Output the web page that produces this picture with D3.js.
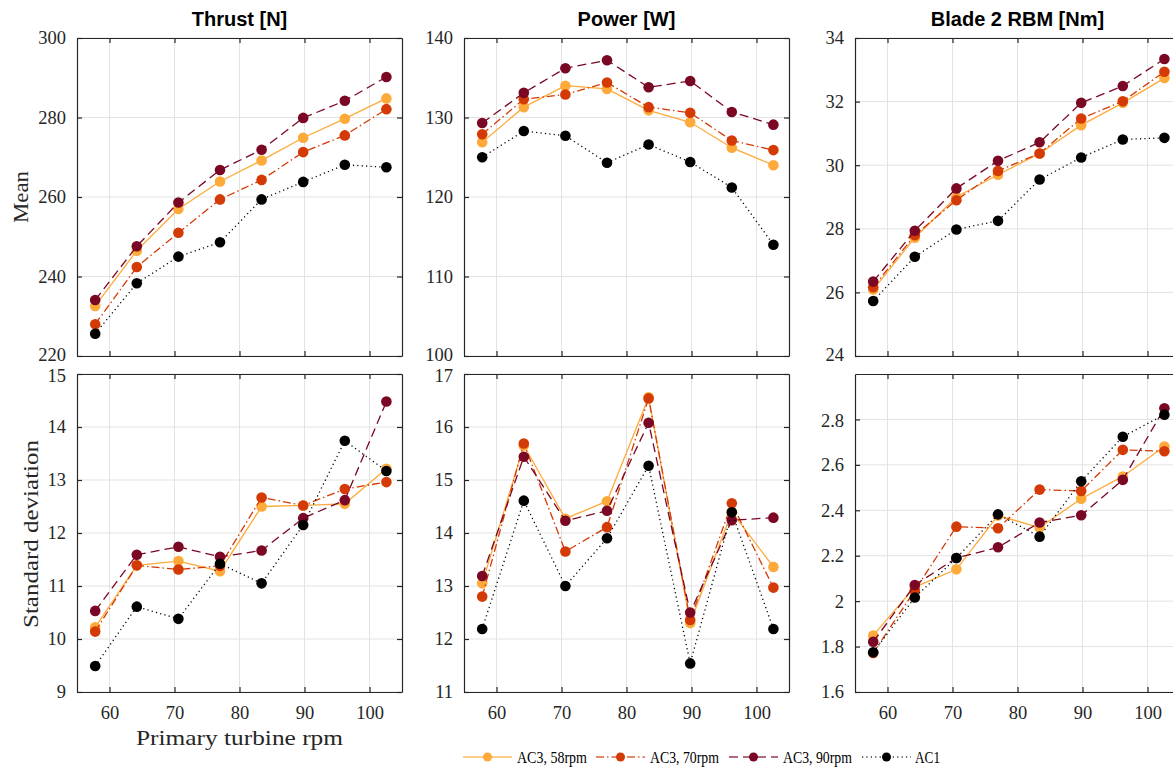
<!DOCTYPE html>
<html>
<head>
<meta charset="utf-8">
<script src="https://cdn.jsdelivr.net/npm/d3@7"></script>
<style>
  body { margin: 0; background: #fff; }
  svg { display: block; }
  .tick text { font-family: "Liberation Serif", "DejaVu Serif", serif; font-size: 18.5px; fill: #262626; }
  .title { font-family: "Liberation Sans", Arial, sans-serif; font-weight: bold; font-size: 20px; fill: #000; }
  .lab { font-family: "Liberation Serif", "DejaVu Serif", serif; font-size: 22px; fill: #262626; }
  .leg { font-family: "Liberation Serif", "DejaVu Serif", serif; font-size: 17px; fill: #000; }
</style>
</head>
<body>
<div class="chart"></div>
<script>
// rotor speeds (primary turbine rpm)
const rpm = [57.8, 64.2, 70.6, 77.0, 83.4, 89.8, 96.2, 102.6];

const seriesNames = ['AC3, 58rpm', 'AC3, 70rpm', 'AC3, 90rpm', 'AC1'];

// mean values
const thrustMean = [
  [232.6, 246.5, 257.0, 263.9, 269.2, 274.9, 279.7, 284.8],
  [228.0, 242.4, 251.0, 259.4, 264.3, 271.3, 275.5, 282.1],
  [234.1, 247.6, 258.6, 266.8, 271.9, 279.9, 284.2, 290.2],
  [225.6, 238.3, 245.0, 248.6, 259.4, 263.8, 268.1, 267.5]
];
const powerMean = [
  [126.9, 131.3, 134.0, 133.6, 130.9, 129.4, 126.2, 124.0],
  [127.9, 132.3, 132.9, 134.4, 131.3, 130.6, 127.1, 125.9],
  [129.3, 133.1, 136.2, 137.2, 133.8, 134.6, 130.7, 129.1],
  [125.0, 128.3, 127.7, 124.3, 126.6, 124.4, 121.2, 114.0]
];
const rbmMean = [
  [26.09, 27.72, 29.00, 29.70, 30.37, 31.26, 31.96, 32.74],
  [26.16, 27.80, 28.90, 29.82, 30.37, 31.47, 32.01, 32.94],
  [26.34, 27.94, 29.27, 30.14, 30.72, 31.96, 32.49, 33.34],
  [25.73, 27.12, 27.98, 28.25, 29.55, 30.24, 30.81, 30.86]
];

// standard deviations
const thrustStd = [
  [10.22, 11.39, 11.47, 11.28, 12.50, 12.52, 12.55, 13.21],
  [10.14, 11.39, 11.31, 11.38, 12.67, 12.52, 12.83, 12.96],
  [10.53, 11.59, 11.74, 11.55, 11.67, 12.28, 12.62, 14.48],
  [9.49, 10.61, 10.38, 11.42, 11.05, 12.15, 13.74, 13.17]
];
const powerStd = [
  [13.05, 15.65, 14.27, 14.60, 16.56, 12.30, 14.40, 13.36],
  [12.80, 15.69, 13.65, 14.11, 16.54, 12.36, 14.56, 12.97],
  [13.19, 15.44, 14.23, 14.42, 16.08, 12.50, 14.24, 14.29],
  [12.19, 14.61, 13.00, 13.90, 15.27, 11.54, 14.39, 12.19]
];
const rbmStd = [
  [1.849, 2.062, 2.140, 2.377, 2.324, 2.451, 2.549, 2.681],
  [1.772, 2.047, 2.328, 2.321, 2.491, 2.485, 2.666, 2.660],
  [1.821, 2.071, 2.190, 2.237, 2.346, 2.378, 2.534, 2.849],
  [1.775, 2.016, 2.190, 2.382, 2.284, 2.528, 2.724, 2.821]
];

const titles = ['Thrust [N]', 'Power [W]', 'Blade 2 RBM [Nm]'];
const xTicks = [60, 70, 80, 90, 100];
const yTicksTop = [[220, 240, 260, 280, 300], [100, 110, 120, 130, 140], [24, 26, 28, 30, 32, 34]];
const yTicksBot = [[9, 10, 11, 12, 13, 14, 15], [11, 12, 13, 14, 15, 16, 17], [1.6, 1.8, 2, 2.2, 2.4, 2.6, 2.8]];
const yDomTop = [[220, 300], [100, 140], [24, 34]];
const yDomBot = [[9, 15], [11, 17], [1.6, 3.0]];

const colors = ['#fdaa3a', '#d43a05', '#7a0723', '#000000'];
const dashes = [null, '8,3,1.5,3', '9,5', '1.2,3.2'];

const svg = d3.select('div.chart').append('svg')
  .attr('width', 1173).attr('height', 769);

const colX = [77, 464, 855];
const rowY = [38, 374];
const pw = 325, ph = 318;

const panels = [
  {row: 0, col: 0, data: thrustMean}, {row: 0, col: 1, data: powerMean}, {row: 0, col: 2, data: rbmMean},
  {row: 1, col: 0, data: thrustStd}, {row: 1, col: 1, data: powerStd}, {row: 1, col: 2, data: rbmStd}
];

const fmt = d => String(+d.toFixed(2));

panels.forEach(p => {
  const g = svg.append('g').attr('transform', `translate(${colX[p.col]},${rowY[p.row]})`);
  const x = d3.scaleLinear().domain([55, 105]).range([0, pw]);
  const y = d3.scaleLinear()
    .domain(p.row === 0 ? yDomTop[p.col] : yDomBot[p.col])
    .range([ph, 0]);
  const yt = p.row === 0 ? yTicksTop[p.col] : yTicksBot[p.col];

  // grid
  g.append('g').selectAll('line.gx').data(xTicks).join('line')
    .attr('x1', d => x(d)).attr('x2', d => x(d)).attr('y1', 0).attr('y2', ph)
    .attr('stroke', '#e3e3e3').attr('stroke-width', 1);
  g.append('g').selectAll('line.gy').data(yt).join('line')
    .attr('y1', d => y(d)).attr('y2', d => y(d)).attr('x1', 0).attr('x2', pw)
    .attr('stroke', '#e3e3e3').attr('stroke-width', 1);

  // axes, ticks inside
  const ax = (axis, tr) => {
    const a = g.append('g').attr('transform', tr).call(axis);
    a.select('.domain').attr('stroke', '#262626').attr('stroke-width', 1.2);
    a.selectAll('.tick line').attr('stroke', '#262626').attr('stroke-width', 1.2);
    return a;
  };
  const bot = ax(d3.axisBottom(x).tickValues(xTicks).tickSizeInner(-5).tickSizeOuter(0).tickPadding(14).tickFormat(fmt),
    `translate(0,${ph})`);
  if (p.row === 0) bot.selectAll('text').remove();
  ax(d3.axisTop(x).tickValues(xTicks).tickSizeInner(-5).tickSizeOuter(0).tickFormat(''), 'translate(0,0)');
  const left = ax(d3.axisLeft(y).tickValues(yt).tickSizeInner(-5).tickSizeOuter(0).tickPadding(11).tickFormat(fmt), 'translate(0,0)');
  // nudge the end labels of stacked panels apart a little, as they sit edge to edge
  if (p.row === 0) left.selectAll('.tick text').filter(d => d === yt[0]).attr('dy', '0.22em');
  if (p.row === 1) left.selectAll('.tick text').filter(d => d === yt[yt.length - 1]).attr('dy', '0.4em');
  ax(d3.axisRight(y).tickValues(yt).tickSizeInner(-5).tickSizeOuter(0).tickFormat(''), `translate(${pw},0)`);

  const line = d3.line().x((d, i) => x(rpm[i])).y(d => y(d));
  p.data.forEach((vals, s) => {
    g.append('path').datum(vals)
      .attr('d', line).attr('fill', 'none')
      .attr('stroke', colors[s]).attr('stroke-width', 1.3)
      .attr('stroke-dasharray', dashes[s]);
    g.append('g').selectAll('circle').data(vals).join('circle')
      .attr('cx', (d, i) => x(rpm[i])).attr('cy', d => y(d)).attr('r', 5.3)
      .attr('fill', colors[s]);
  });

  if (p.row === 0) {
    g.append('text').attr('class', 'title').attr('x', pw / 2).attr('y', -12)
      .attr('text-anchor', 'middle').text(titles[p.col]);
  }
});

// axis labels
svg.append('text').attr('class', 'lab').attr('text-anchor', 'middle')
  .attr('transform', 'translate(28,197) rotate(-90)')
  .attr('textLength', 52).attr('lengthAdjust', 'spacingAndGlyphs').text('Mean');
svg.append('text').attr('class', 'lab').attr('text-anchor', 'middle')
  .attr('transform', 'translate(38,534) rotate(-90)')
  .attr('textLength', 188).attr('lengthAdjust', 'spacingAndGlyphs').text('Standard deviation');
svg.append('text').attr('class', 'lab').attr('text-anchor', 'middle')
  .attr('x', colX[0] + pw / 2).attr('y', 745)
  .attr('textLength', 207).attr('lengthAdjust', 'spacingAndGlyphs').text('Primary turbine rpm');

// legend
const legX = [463, 596, 729, 862];
const legW = [70, 69, 69, 25];
const leg = svg.append('g').attr('transform', 'translate(0,757)');
seriesNames.forEach((name, s) => {
  const lg = leg.append('g').attr('transform', `translate(${legX[s]},0)`);
  lg.append('line').attr('x1', 0).attr('x2', 49).attr('y1', 0).attr('y2', 0)
    .attr('stroke', colors[s]).attr('stroke-width', 1.8).attr('stroke-opacity', 0.6)
    .attr('stroke-dasharray', dashes[s]);
  lg.append('circle').attr('cx', 24.5).attr('cy', 0).attr('r', 4.5).attr('fill', colors[s]);
  lg.append('text').attr('class', 'leg').attr('x', s === 3 ? 53 : 54).attr('y', 6)
    .attr('textLength', legW[s]).attr('lengthAdjust', 'spacingAndGlyphs').text(name);
});
</script>
</body>
</html>
